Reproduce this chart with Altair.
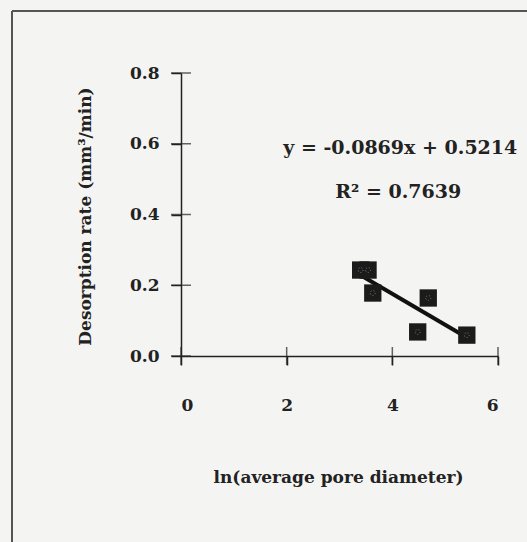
import altair as alt
import pandas as pd

# data
ln_diameter = [3.40, 3.54, 3.63, 4.68, 4.48, 5.41]
desorption_rate = [0.243, 0.243, 0.178, 0.164, 0.068, 0.059]
x_ticks = [0, 2, 4, 6]
y_ticks = [0.0, 0.2, 0.4, 0.6, 0.8]
equation_text = "y = -0.0869x + 0.5214"
r2_text = "R² = 0.7639"

df = pd.DataFrame({"x": ln_diameter, "y": desorption_rate})
xt = pd.DataFrame({"v": x_ticks})
yt = pd.DataFrame({"v": y_ticks})

W, H = 317, 283
INK = "#222222"
FONT = "DejaVu Serif"

xscale = alt.Scale(domain=[0, 6], nice=False, zero=False)
yscale = alt.Scale(domain=[0, 0.8], nice=False, zero=False)

xaxis = alt.Axis(values=x_ticks, format="d", title="ln(average pore diameter)",
                 grid=False, domainColor=INK, domainWidth=1.5,
                 tickColor=INK, tickWidth=1.5, tickSize=9,
                 labelFont=FONT, labelFontWeight="bold", labelFontSize=17,
                 labelColor=INK, labelPadding=32,
                 titleFont=FONT, titleFontWeight="bold", titleFontSize=17,
                 titleColor=INK, titleX=157, titleY=121,
                 titleBaseline="middle", titleAlign="center")
yaxis = alt.Axis(values=y_ticks, format=".1f", title="Desorption rate (mm³/min)",
                 grid=False, domainColor=INK, domainWidth=1.5,
                 tickColor=INK, tickWidth=1.5, tickSize=10,
                 labelFont=FONT, labelFontWeight="bold", labelFontSize=17,
                 labelColor=INK, labelPadding=12,
                 titleFont=FONT, titleFontWeight="bold", titleFontSize=17,
                 titleColor=INK, titleX=-96, titleY=143, titleAngle=-90,
                 titleBaseline="middle", titleAlign="center")

base = alt.Chart(df)

points = base.mark_square(size=300, color="#1b1b1b", opacity=1).encode(
    x=alt.X("x:Q", scale=xscale, axis=xaxis),
    y=alt.Y("y:Q", scale=yscale, axis=yaxis),
)
speckle = base.mark_point(shape="circle", size=24, color="#a8a8a8",
                          strokeWidth=1, strokeDash=[1, 2], filled=False).encode(
    x=alt.X("x:Q", scale=xscale), y=alt.Y("y:Q", scale=yscale))

trend = base.transform_regression("x", "y", method="linear").mark_line(
    color="#111111", strokeWidth=4).encode(
    x=alt.X("x:Q", scale=xscale), y=alt.Y("y:Q", scale=yscale))

xticks_in = alt.Chart(xt).mark_tick(orient="vertical", size=18, thickness=1.5,
                                    color=INK).encode(
    x=alt.X("v:Q", scale=xscale), y=alt.datum(0, scale=yscale))
yticks_in = alt.Chart(yt).mark_tick(orient="horizontal", size=20, thickness=1.5,
                                    color=INK).encode(
    y=alt.Y("v:Q", scale=yscale), x=alt.datum(0, scale=xscale))

eq = alt.Chart(alt.Data(values=[{}])).mark_text(
    text=equation_text, font=FONT, fontWeight="bold", fontSize=19,
    color=INK, align="center", baseline="middle").encode(
    x=alt.datum(4.15, scale=xscale), y=alt.datum(0.588, scale=yscale))
r2 = alt.Chart(alt.Data(values=[{}])).mark_text(
    text=r2_text, font=FONT, fontWeight="bold", fontSize=19,
    color=INK, align="center", baseline="middle").encode(
    x=alt.datum(4.11, scale=xscale), y=alt.datum(0.464, scale=yscale))

frame_v = alt.Chart(alt.Data(values=[{}])).mark_rule(
    color="#555555", strokeWidth=2).encode(
    x=alt.value(-169), y=alt.value(-62), y2=alt.value(H + 200))
frame_h = alt.Chart(alt.Data(values=[{}])).mark_rule(
    color="#555555", strokeWidth=2).encode(
    y=alt.value(-62), x=alt.value(-169), x2=alt.value(W + 100))

chart = alt.layer(frame_v, frame_h, xticks_in, yticks_in, trend, points,
                  speckle, eq, r2).properties(
    width=W, height=H,
    autosize=alt.AutoSizeParams(type="none"),
    padding={"left": 181, "top": 73, "right": 29, "bottom": 186},
    background="#f4f4f2",
).configure_view(stroke=None)

chart.save("out.html", embed_options={"renderer": "svg", "actions": False})
